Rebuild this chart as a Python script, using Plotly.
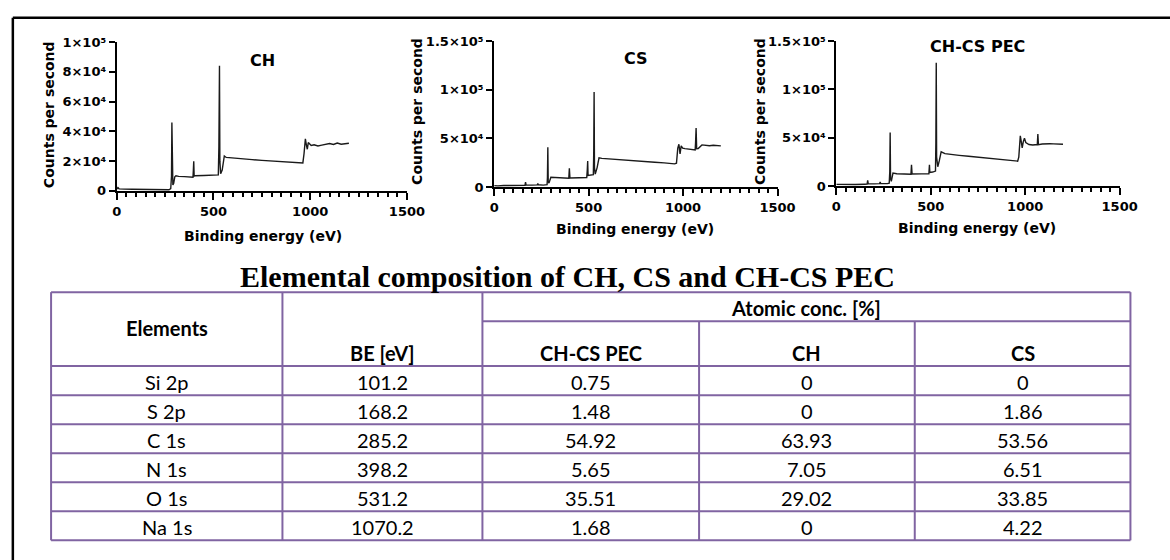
import plotly.graph_objects as go

W, H = 1170, 560


def px(x):
    return x / W


def py(y):
    return 1 - y / H


# ---------------- spectra data (binding energy eV, counts per second) ----------------
ch_be = [0, 6, 12, 20, 40, 80, 120, 160, 200, 240, 270, 279, 283, 285, 287, 290, 294, 300, 306,
         320, 350, 380, 394, 396, 398, 400, 404, 450, 500, 525, 528, 531, 533, 537, 545, 556,
         566, 600, 650, 700, 750, 800, 850, 900, 950, 962, 968, 975, 980, 985, 990, 997, 1005,
         1020, 1040, 1060, 1080, 1100, 1120, 1140, 1160, 1180, 1200]
ch_cps = [1200, 2200, 1400, 1300, 1200, 1100, 1100, 1000, 1000, 900, 800, 1500, 10000, 46000,
          8000, 4000, 5000, 9500, 10200, 9800, 9600, 9300, 9200, 14000, 20000, 10000, 10200,
          10400, 10600, 10800, 30000, 84000, 20000, 11500, 14000, 23500, 22500, 22000, 21500,
          21000, 20500, 20000, 19600, 19300, 19000, 18800, 25000, 35000, 31000, 28000, 32500,
          31500, 30500, 31000, 30200, 30800, 31500, 31800, 31200, 32200, 31400, 31800, 32000]

cs_be = [0, 20, 50, 100, 150, 163, 166, 169, 200, 228, 231, 234, 260, 280, 282, 284, 286, 290,
         300, 320, 360, 395, 398, 401, 450, 490, 493, 495, 497, 510, 525, 527, 529, 531, 535,
         545, 555, 570, 600, 650, 700, 750, 800, 850, 900, 955, 965, 972, 978, 984, 990, 998,
         1010, 1030, 1050, 1064, 1066, 1069, 1072, 1080, 1100, 1120, 1140, 1160, 1180, 1200]
cs_cps = [1500, 1200, 1600, 1500, 1700, 1800, 5000, 2000, 2000, 2200, 3500, 2300, 2000, 2500,
          10000, 41000, 6000, 4000, 10000, 9800, 9300, 9000, 19300, 9300, 9500, 9800, 18000,
          26700, 12000, 12300, 12800, 35000, 97700, 20000, 13300, 20000, 30000, 29500, 29000,
          28300, 27600, 27000, 26200, 25500, 24800, 23800, 24500, 40000, 44000, 34000, 42300,
          40000, 39500, 38800, 38500, 38000, 45000, 60700, 39300, 39500, 43300, 42800, 42500,
          43000, 42300, 42300]

pec_be = [0, 50, 100, 150, 163, 166, 169, 200, 229, 232, 235, 270, 280, 283, 285, 287, 291, 300,
          320, 360, 395, 398, 401, 450, 490, 493, 495, 510, 525, 527, 529, 531, 537, 545, 555,
          575, 600, 650, 700, 750, 800, 850, 900, 960, 966, 974, 980, 984, 990, 996, 1003, 1020,
          1040, 1060, 1064, 1067, 1070, 1090, 1110, 1130, 1150, 1170, 1190, 1200]
pec_cps = [1800, 1500, 1700, 1900, 2000, 6000, 2300, 2300, 2500, 4300, 2600, 2500, 3000, 15000,
           55500, 8000, 5000, 13400, 12800, 12500, 12300, 22000, 12500, 12600, 12800, 22000,
           14000, 14500, 15500, 45000, 127500, 30000, 20000, 26000, 35500, 33500, 32800, 31800,
           30800, 29800, 28800, 27900, 27000, 25800, 30000, 51900, 45000, 39500, 46000, 49500,
           45000, 43000, 42500, 42300, 43000, 53900, 42800, 43500, 44000, 43800, 43600, 43300,
           43000, 43200]

panel_titles = ["CH", "CS", "CH-CS PEC"]
y_ticks_small = [0, 20000, 40000, 60000, 80000, 100000]
y_labels_small = ["0", "2×10⁴", "4×10⁴", "6×10⁴", "8×10⁴", "1×10⁵"]
y_ticks_big = [0, 50000, 100000, 150000]
y_labels_big = ["0", "5×10⁴", "1×10⁵", "1.5×10⁵"]
x_title = "Binding energy (eV)"
y_title = "Counts per second"

# ---------------- table data ----------------
table_title = "Elemental composition of CH, CS and CH-CS PEC"
elements = ["Si 2p", "S 2p", "C 1s", "N 1s", "O 1s", "Na 1s"]
be_ev = ["101.2", "168.2", "285.2", "398.2", "531.2", "1070.2"]
conc_pec = ["0.75", "1.48", "54.92", "5.65", "35.51", "1.68"]
conc_ch = ["0", "0", "63.93", "7.05", "29.02", "0"]
conc_cs = ["0", "1.86", "53.56", "6.51", "33.85", "4.22"]

# ---------------- figure ----------------
FONT = "DejaVu Sans"
fig = go.Figure()

panels = [
    dict(be=ch_be, cps=ch_cps, xd=(114, 410), yd=(189, 36), ymax=100000,
         tv=y_ticks_small, tt=y_labels_small, title_xy=(263, 55),
         ytitle_xy=(45, 111), xtitle_xy=(263, 235)),
    dict(be=cs_be, cps=cs_cps, xd=(499, 788), yd=(185, 35), ymax=150000,
         tv=y_ticks_big, tt=y_labels_big, title_xy=(644, 53),
         ytitle_xy=(420, 107), xtitle_xy=(643, 228)),
    dict(be=pec_be, cps=pec_cps, xd=(848, 1137), yd=(184, 35), ymax=150000,
         tv=y_ticks_big, tt=y_labels_big, title_xy=(992, 41),
         ytitle_xy=(770, 107), xtitle_xy=(992, 227)),
]

annotations = []
layout_axes = {}


def note(text, x, y, family, size, bold=False, angle=0):
    annotations.append(dict(text=text, x=px(x), y=py(y), xref="paper", yref="paper",
                            showarrow=False, xanchor="center", yanchor="middle",
                            textangle=angle,
                            font=dict(family=family, size=size, color="black",
                                      weight="bold" if bold else "normal")))


for i, p in enumerate(panels):
    n = "" if i == 0 else str(i + 1)
    fig.add_trace(go.Scatter(x=p["be"], y=p["cps"], mode="lines",
                             line=dict(color="#1a1a1a", width=1.4),
                             xaxis="x" + n, yaxis="y" + n, hoverinfo="skip",
                             showlegend=False))
    tickfont = dict(family=FONT, size=13, color="black", weight="bold")
    layout_axes["xaxis" + n] = dict(
        domain=[px(p["xd"][0]), px(p["xd"][1])], anchor="y" + n,
        range=[0, 1500], tick0=0, dtick=500, ticks="outside", ticklen=7,
        tickwidth=2, tickcolor="black", showline=True, linewidth=2,
        linecolor="black", showgrid=False, zeroline=False,
        minor=dict(tick0=0, dtick=50, ticks="outside", ticklen=4, tickwidth=1.5,
                   tickcolor="black", showgrid=False),
        tickfont=tickfont, fixedrange=True)
    layout_axes["yaxis" + n] = dict(
        domain=[py(p["yd"][0]), py(p["yd"][1])], anchor="x" + n,
        range=[0, p["ymax"]], tickmode="array", tickvals=p["tv"], ticktext=p["tt"],
        ticks="outside", ticklen=6, tickwidth=2, tickcolor="black",
        showline=True, linewidth=2, linecolor="black", showgrid=False,
        zeroline=False, tickfont=tickfont, fixedrange=True)
    note(panel_titles[i], p["title_xy"][0], p["title_xy"][1], FONT, 16, bold=True)
    note(y_title, p["ytitle_xy"][0], p["ytitle_xy"][1], FONT, 14, bold=True, angle=-90)
    note(x_title, p["xtitle_xy"][0], p["xtitle_xy"][1], FONT, 14, bold=True)

# ---------------- table ----------------
TX = [47, 283, 487, 708, 928, 1148]
T_TOP, T_SUB, T_HEAD = 293, 323, 369
T_BOTTOM = 548
ROW_H = (T_BOTTOM - T_HEAD) / len(elements)
PURPLE = "#8064A2"
TFONT = "Lato"

shapes = []


def hline(x0, x1, y):
    shapes.append(dict(type="line", xref="paper", yref="paper", x0=px(x0), x1=px(x1),
                       y0=py(y), y1=py(y), line=dict(color=PURPLE, width=2)))


def vline(x, y0, y1):
    shapes.append(dict(type="line", xref="paper", yref="paper", x0=px(x), x1=px(x),
                       y0=py(y0), y1=py(y1), line=dict(color=PURPLE, width=2)))


hline(TX[0], TX[-1], T_TOP)
hline(TX[2], TX[-1], T_SUB)
hline(TX[0], TX[-1], T_HEAD)
for r in range(1, len(elements) + 1):
    hline(TX[0], TX[-1], T_HEAD + r * ROW_H)
for k in (0, 1, 2, 5):
    vline(TX[k], T_TOP, T_BOTTOM)
for k in (3, 4):
    vline(TX[k], T_SUB, T_BOTTOM)

note("Elements", (TX[0] + TX[1]) / 2, (T_TOP + T_HEAD) / 2 - 1, TFONT, 20, bold=True)
note("BE [eV]", (TX[1] + TX[2]) / 2, 356, TFONT, 20, bold=True)
note("Atomic conc. [%]", (TX[2] + TX[5]) / 2, (T_TOP + T_SUB) / 2 + 1, TFONT, 20, bold=True)
note("CH-CS PEC", (TX[2] + TX[3]) / 2, 356, TFONT, 20, bold=True)
note("CH", (TX[3] + TX[4]) / 2, 356, TFONT, 20, bold=True)
note("CS", (TX[4] + TX[5]) / 2, 356, TFONT, 20, bold=True)

columns = [elements, be_ev, conc_pec, conc_ch, conc_cs]
for c, col in enumerate(columns):
    for r, val in enumerate(col):
        note(val, (TX[c] + TX[c + 1]) / 2, T_HEAD + (r + 0.5) * ROW_H + 1, TFONT, 20)

note(table_title, 574, 277, "Liberation Serif", 30, bold=True)

# outer frame (left and top edges visible)
shapes.append(dict(type="line", xref="paper", yref="paper", x0=px(8), x1=1.05,
                   y0=py(11), y1=py(11), line=dict(color="black", width=2.5)))
shapes.append(dict(type="line", xref="paper", yref="paper", x0=px(8), x1=px(8),
                   y0=py(11), y1=-0.05, line=dict(color="black", width=2.5)))

fig.update_layout(width=W, height=H, margin=dict(l=0, r=0, t=0, b=0),
                  paper_bgcolor="white", plot_bgcolor="white", showlegend=False,
                  annotations=annotations, shapes=shapes, **layout_axes)

fig.write_html("out.html", config={"displayModeBar": False})
